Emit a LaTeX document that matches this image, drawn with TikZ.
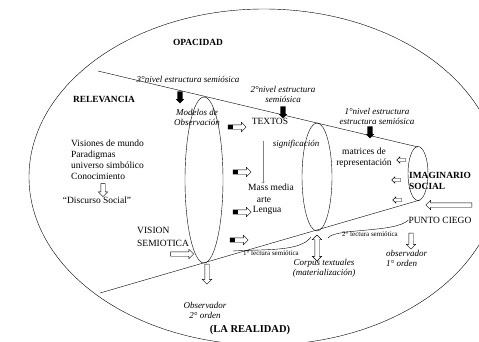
\documentclass[tikz,border=0pt]{standalone}
\usepackage{fontspec}
\setmainfont{Liberation Serif}
\usetikzlibrary{shapes.arrows}

\tikzset{
  hueco/.style={single arrow, draw, fill=white, inner xsep=0pt, inner ysep=2pt, single arrow head extend=2.5pt, minimum height=#1},
  hueco/.default=17pt,
  chica/.style={hueco=#1, inner ysep=1.3pt, single arrow head extend=1.6pt},
  chica/.default=9pt,
  cola/.style={hueco=#1, path picture={\fill[black] (path picture bounding box.west) ++(0pt,-2pt) rectangle ++(5pt,4pt);}},
  cola/.default=18pt,
  negra/.style={single arrow, fill=black, rotate=-90, inner xsep=0pt, inner ysep=2.5pt, single arrow head extend=1.5pt, minimum height=12pt},
  titulo/.style={font=\fontsize{9.4}{11}\selectfont\bfseries, inner sep=0pt},
  texto/.style={font=\fontsize{9.5}{11}\selectfont, inner sep=0pt},
  cursiva/.style={font=\fontsize{9}{10}\selectfont\itshape, align=center, inner sep=0pt},
  lectura/.style={font=\fontsize{7}{8}\selectfont, inner sep=0pt}
}

\begin{document}
\begin{tikzpicture}[x=1pt,y=-1pt]
\useasboundingbox (0,0) rectangle (479,341);
\draw (264,177) ellipse [x radius=235, y radius=168];
\draw (98,71) -- (418,147);
\draw (100,293) -- (420,200);
\draw (204,180) ellipse [x radius=19, y radius=83];
\draw (317,177) ellipse [x radius=15, y radius=54];
\draw (418,173.5) ellipse [x radius=10, y radius=27];

\node[titulo] (opac) at (198,42) {OPACIDAD};
\node[titulo] (relev) at (104,99) {RELEVANCIA};
\node[titulo, font=\fontsize{10.5}{12}\selectfont\bfseries] (real) at (250,330) {(LA REALIDAD)};
\node[titulo, align=left, anchor=west] (imag) at (409,181) {IMAGINARIO\\SOCIAL};

\node[cursiva] (niv3) at (188,79) {3°nivel estructura semiósica};
\node[negra] (f3) at (180,96) {};
\node[cursiva] (model) at (197,117) {Modelos de\\Observación};
\node[texto] (textos) at (270,121) {TEXTOS};
\node[cursiva] (niv2) at (283,94) {2°nivel estructura\\semiósica};
\node[negra] (f2) at (283,111) {};
\node[cursiva] (niv1) at (377,116) {1°nivel estructura\\estructura semiósica};
\node[negra] (f1) at (370,131) {};

\node[cursiva] (signif) at (296,144) {significación};
\node[texto] (mass) at (271,187) {Mass media};
\node[texto] (arte) at (264,200) {arte};
\node[texto] (lengua) at (267,210) {Lengua};
\coordinate (s0) at (263,141);
\draw[gray, ->] (s0) -- (s0 |- mass.north);

\node[texto, align=center] (matr) at (364,158) {matrices de\\representación};
\node[texto] (punto) at (440,220) {PUNTO CIEGO};
\node[lectura] (lec2) at (370,234) {2° lectura semiótica};
\node[cursiva, align=left, anchor=west] (obs1) at (386,258) {observador\\1° orden};
\node[cursiva] (corpus) at (324,268) {Corpus textuales\\(materialización)};
\node[lectura] (lec1) at (271,253) {1° lectura semiótica};
\node[texto, align=left, anchor=west] (vision) at (137,236.5) {VISION\\[2pt]SEMIOTICA};
\node[cursiva] (obs2) at (205,310) {Observador\\2° orden};
\node[texto, align=left, anchor=west] (visiones) at (71,159.5) {Visiones de mundo\\Paradigmas\\universo simbólico\\Conocimiento};
\node[texto] (disc) at (97,200) {“Discurso Social”};

\node[cola] (a1) at (236,127) {};
\node[cola] (a2) at (241,172) {};
\node[cola] (a3) at (241,212) {};
\node[cola] (a4) at (238,240) {};
\node[hueco=23pt] (a5) at (181,254) {};
\node[hueco=20pt, rotate=-90] (a6) at (207,273) {};
\node[hueco=13pt, rotate=-90] (a7) at (103,189) {};
\node[chica, rotate=180] (a8) at (402,160) {};
\node[chica, rotate=180] (a9) at (397,180) {};
\node[chica, rotate=180] (a10) at (398,200) {};
\node[hueco=46pt, rotate=180] (a11) at (450,205) {};
\node[hueco=16pt, rotate=-90] (a12) at (411,240) {};
\node[double arrow, draw, fill=white, rotate=90, inner xsep=0pt, inner ysep=2pt, double arrow head extend=2.5pt, minimum height=26pt] (a13) at (317,248) {};

\coordinate (l1a) at (233,251);
\coordinate (l1b) at (311,237);
\draw (l1a) .. controls (265,249) and (300,252) .. (l1b);
\coordinate (l2a) at (328,238);
\draw (l2a) .. controls (334,228) and (396,233) .. (punto.west);
\end{tikzpicture}
\end{document}
